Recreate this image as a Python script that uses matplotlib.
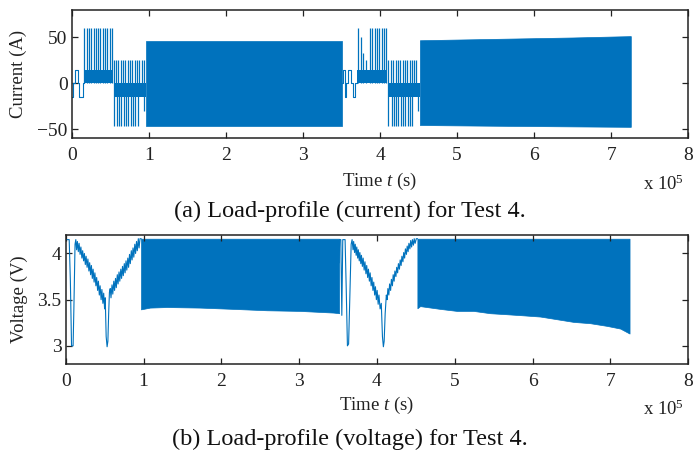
import matplotlib
matplotlib.use("Agg")
import matplotlib.pyplot as plt

BLUE = "#0072BD"
plt.rcParams["font.family"] = ["Liberation Serif", "DejaVu Serif"]
plt.rcParams["mathtext.fontset"] = "custom"
plt.rcParams["mathtext.rm"] = "Liberation Serif"
plt.rcParams["mathtext.it"] = "Liberation Serif:italic"

# ---------------- data (time in units of 1e5 s) ----------------
x_ticks = [0, 1, 2, 3, 4, 5, 6, 7, 8]
cur_yticks = [-50, 0, 50]
volt_yticks = [3, 3.5, 4]

# current: small step sections
cur_step1_t = [0.000, 0.022, 0.043, 0.086, 0.100, 0.143, 0.163]
cur_step1_v = [-15, 0, 15, 0, -15, 0, 0]
cur_step2_t = [3.502, 3.515, 3.545, 3.560, 3.580, 3.630, 3.645, 3.680, 3.697]
cur_step2_v = [0, 15, -15, 0, 15, 0, -15, 0, 0]

# current: base bands (start, end, level)
band_start = [0.163, 0.550, 3.697, 4.100]
band_end = [0.530, 0.965, 4.090, 4.518]
band_level = [15, -15, 15, -15]

# current: positive pulses
spk_up_t = [0.163, 0.193, 0.223, 0.253, 0.283, 0.313, 0.343, 0.373, 0.403,
            0.433, 0.463, 0.493, 0.523,
            0.549, 0.575, 0.605, 0.636, 0.666, 0.696, 0.726, 0.756, 0.786,
            0.817, 0.847, 0.877, 0.907, 0.937,
            3.709, 3.748, 3.782, 3.817, 3.869, 3.899, 3.930, 3.960, 3.990,
            4.020, 4.050, 4.077,
            4.106, 4.141, 4.171, 4.202, 4.232, 4.262, 4.292, 4.322, 4.352,
            4.383, 4.413, 4.443, 4.473]
spk_up_v = [60] * 13 + [25] * 14 + [60, 50, 33, 25, 60, 60, 60, 60, 60, 60, 60, 60] + [25] * 13

# current: negative pulses
spk_dn_t = [0.553, 0.584, 0.614, 0.644, 0.674, 0.704, 0.735, 0.765, 0.795,
            0.825, 0.855, 0.940,
            4.110, 4.150, 4.180, 4.210, 4.240, 4.270, 4.300, 4.330, 4.360,
            4.390, 4.420, 4.495]
spk_dn_v = [-47] * 11 + [-30] + [-47] * 11 + [-30]

# current: dense cycling blocks (envelopes)
cur_blk1_t = [0.965, 3.502]
cur_blk1_hi = [46, 46]
cur_blk1_lo = [-47, -47]
cur_blk2_t = [4.518, 5.5, 6.5, 7.254]
cur_blk2_hi = [47.0, 48.5, 50.0, 51.5]
cur_blk2_lo = [-45.5, -46.3, -47.0, -47.5]

# voltage: first discharge/charge cycle
volt_seg1_t = [0.000, 0.045, 0.060, 0.075, 0.095, 0.105, 0.120,
               0.130, 0.140, 0.150, 0.162, 0.172, 0.185, 0.195, 0.208, 0.218,
               0.230, 0.240, 0.252, 0.262, 0.275, 0.285, 0.298, 0.308, 0.320,
               0.330, 0.342, 0.352, 0.365, 0.375, 0.388, 0.398, 0.410, 0.420,
               0.432, 0.442, 0.455, 0.465, 0.478, 0.488, 0.500, 0.508, 0.520,
               0.532, 0.542, 0.552, 0.562,
               0.572, 0.582, 0.595, 0.605, 0.618, 0.628, 0.640, 0.650, 0.663,
               0.673, 0.685, 0.695, 0.708, 0.718, 0.730, 0.740, 0.753, 0.763,
               0.775, 0.785, 0.798, 0.808, 0.820, 0.830, 0.843, 0.853, 0.865,
               0.875, 0.888, 0.898, 0.910, 0.920, 0.933, 0.943, 0.955, 0.968]
volt_seg1_v = [4.15, 4.15, 3.70, 3.00, 3.00, 3.40, 4.10,
               4.15, 4.04, 4.13, 4.02, 4.11, 3.99, 4.07, 3.95, 4.03,
               3.92, 4.00, 3.88, 3.97, 3.85, 3.94, 3.81, 3.90, 3.77,
               3.87, 3.73, 3.83, 3.69, 3.79, 3.65, 3.74, 3.60, 3.70,
               3.55, 3.65, 3.50, 3.61, 3.46, 3.57, 3.40, 3.52, 3.10,
               2.99, 3.05, 3.35, 3.58,
               3.62, 3.52, 3.66, 3.56, 3.70, 3.60, 3.73, 3.63, 3.77,
               3.67, 3.80, 3.70, 3.83, 3.73, 3.86, 3.76, 3.89, 3.79,
               3.92, 3.82, 3.95, 3.85, 3.99, 3.89, 4.03, 3.93, 4.06,
               3.96, 4.10, 4.00, 4.13, 4.03, 4.16, 4.06, 4.16, 4.16]

# voltage: second discharge/charge cycle
volt_seg2_t = [3.513, 3.520, 3.535, 3.548, 3.560, 3.590, 3.605, 3.620, 3.635,
               3.650, 3.668, 3.680,
               3.692, 3.700, 3.712, 3.720, 3.732, 3.740, 3.752, 3.760, 3.772,
               3.780, 3.792, 3.800, 3.812, 3.822, 3.835, 3.845, 3.858, 3.868,
               3.880, 3.890, 3.902, 3.912, 3.925, 3.935, 3.948, 3.958, 3.970,
               3.980, 3.992, 4.002, 4.015, 4.025, 4.040, 4.055, 4.070, 4.082,
               4.092, 4.105, 4.120,
               4.130, 4.140, 4.152, 4.162, 4.175, 4.185, 4.198, 4.208, 4.220,
               4.230, 4.243, 4.253, 4.265, 4.275, 4.288, 4.298, 4.310, 4.320,
               4.333, 4.343, 4.355, 4.365, 4.378, 4.388, 4.400, 4.410, 4.423,
               4.433, 4.445, 4.455, 4.468, 4.478, 4.490, 4.505, 4.519]
volt_seg2_v = [3.90, 4.15, 4.15, 3.33, 4.15, 4.15, 3.60, 3.00, 3.02,
               3.50, 4.10, 4.15,
               4.04, 4.13, 4.01, 4.10, 3.98, 4.07, 3.95, 4.04, 3.92,
               4.01, 3.89, 3.98, 3.86, 3.95, 3.82, 3.91, 3.78, 3.87,
               3.74, 3.83, 3.70, 3.79, 3.65, 3.74, 3.60, 3.69, 3.55,
               3.64, 3.50, 3.60, 3.45, 3.55, 3.40, 3.46, 3.10, 2.99,
               3.05, 3.35, 3.55,
               3.50, 3.62, 3.55, 3.67, 3.60, 3.72, 3.65, 3.77, 3.70,
               3.81, 3.75, 3.85, 3.79, 3.89, 3.83, 3.93, 3.87, 3.97,
               3.91, 4.01, 3.95, 4.05, 3.99, 4.08, 4.02, 4.11, 4.05,
               4.14, 4.07, 4.15, 4.09, 4.16, 4.11, 4.16, 4.16]

# voltage: dense cycling blocks (top level and lower envelope)
volt_top = 4.16
volt_blk1_t = [0.968, 1.083, 1.298, 1.726, 2.155, 2.584, 3.010, 3.440, 3.513]
volt_blk1_lo = [3.395, 3.414, 3.420, 3.414, 3.400, 3.385, 3.378, 3.360, 3.353]
volt_blk2_t = [4.519, 4.554, 4.810, 5.026, 5.240, 5.454, 5.668, 5.882, 6.097,
               6.311, 6.525, 6.739, 6.954, 7.125, 7.245]
volt_blk2_lo = [3.407, 3.430, 3.400, 3.378, 3.378, 3.353, 3.342, 3.330, 3.317,
                3.288, 3.259, 3.245, 3.216, 3.187, 3.133]

# ---------------- figure ----------------
W, H = 694, 461
fig = plt.figure(figsize=(W / 100, H / 100), dpi=100)
ax1 = fig.add_axes([71.7 / W, 1 - 138.3 / H, 616.6 / W, 128.3 / H])
ax2 = fig.add_axes([65.7 / W, 1 - 364.3 / H, 622.6 / W, 129.3 / H])

lw = 0.8
TXT = "#222222"
# current
ax1.step(cur_step1_t, cur_step1_v, where="post", color=BLUE, lw=lw)
ax1.step(cur_step2_t, cur_step2_v, where="post", color=BLUE, lw=lw)
for s, e, lv in zip(band_start, band_end, band_level):
    ax1.fill_between([s, e], [0, 0], [lv, lv], color=BLUE, lw=0)
ax1.vlines(spk_up_t, 0, spk_up_v, color=BLUE, lw=0.9)
ax1.vlines(spk_dn_t, 0, spk_dn_v, color=BLUE, lw=0.9)
ax1.fill_between(cur_blk1_t, cur_blk1_lo, cur_blk1_hi, color=BLUE, lw=0.5)
ax1.fill_between(cur_blk2_t, cur_blk2_lo, cur_blk2_hi, color=BLUE, lw=0.5)
ax1.set_xlim(0, 8)
ax1.set_ylim(-60, 80)
ax1.set_yticks(cur_yticks)

# voltage
ax2.plot(volt_seg1_t, volt_seg1_v, color=BLUE, lw=lw)
ax2.plot(volt_seg2_t, volt_seg2_v, color=BLUE, lw=lw)
ax2.fill_between(volt_blk1_t, volt_blk1_lo, [volt_top] * len(volt_blk1_t), color=BLUE, lw=0.5)
ax2.fill_between(volt_blk2_t, volt_blk2_lo, [volt_top] * len(volt_blk2_t), color=BLUE, lw=0.5)
ax2.set_xlim(0, 8)
ax2.set_ylim(2.8, 4.2)
ax2.set_yticks(volt_yticks)
ax2.set_yticklabels(["3", "3.5", "4"])

for ax in (ax1, ax2):
    ax.set_xticks(x_ticks)
    ax.tick_params(direction="in", top=True, right=True, length=4.5, width=0.9,
                   labelsize=14, colors=TXT, labelcolor=TXT)
    ax.tick_params(axis="x", pad=6.5)
    ax.tick_params(axis="y", pad=3)
    for sp in ax.spines.values():
        sp.set_linewidth(1.1)
        sp.set_color(TXT)

ax1.set_ylabel("Current (A)", fontsize=13.5, color=TXT, va="center", ha="center")
ax1.yaxis.set_label_coords((18.5 - 71.7) / 616.6, 0.5)
ax2.set_ylabel("Voltage (V)", fontsize=13.5, color=TXT, va="center", ha="center")
ax2.yaxis.set_label_coords((19.5 - 65.7) / 622.6, 0.5)

ax1.set_xlabel(r"Time $t$ (s)", fontsize=13.5, color=TXT, va="center")
ax1.xaxis.set_label_coords(0.5, (138.3 - 181) / 128.3)
ax2.set_xlabel(r"Time $t$ (s)", fontsize=13.5, color=TXT, va="center")
ax2.xaxis.set_label_coords(0.5, (364.3 - 405) / 129.3)

fig.text(684 / W, 1 - 190 / H, r"x 10$^5$", fontsize=13.5, color=TXT,
         ha="right", va="baseline")
fig.text(684 / W, 1 - 415 / H, r"x 10$^5$", fontsize=13.5, color=TXT,
         ha="right", va="baseline")

fig.text(350 / W, 1 - 211 / H, "(a) Load-profile (current) for Test 4.",
         fontsize=17.5, color="#111111", ha="center", va="center")
fig.text(350 / W, 1 - 439 / H, "(b) Load-profile (voltage) for Test 4.",
         fontsize=17.5, color="#111111", ha="center", va="center")

fig.savefig("out.png", dpi=100)
